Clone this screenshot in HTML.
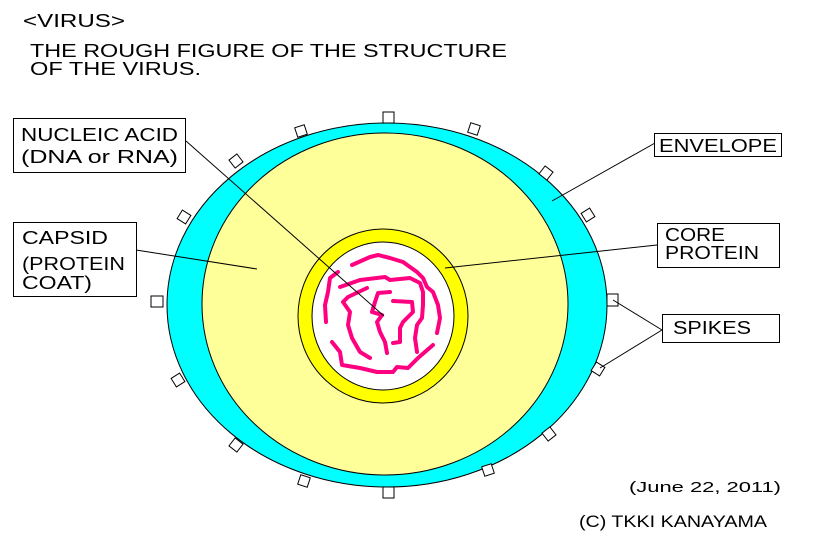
<!DOCTYPE html>
<html><head><meta charset="utf-8"><style>
html,body{margin:0;padding:0;background:#fff;}
svg{display:block;}
text{font-family:"Liberation Sans",sans-serif;fill:#000;}
</style></head><body>
<svg width="817" height="545" viewBox="0 0 817 545" xmlns="http://www.w3.org/2000/svg">
<rect width="817" height="545" fill="#fff"/>
<g font-size="18">
<text x="23" y="27" textLength="102" lengthAdjust="spacingAndGlyphs">&lt;VIRUS&gt;</text>
<text x="30" y="57" textLength="477" lengthAdjust="spacingAndGlyphs">THE  ROUGH  FIGURE  OF  THE  STRUCTURE</text>
<text x="30" y="75" textLength="171" lengthAdjust="spacingAndGlyphs">OF  THE  VIRUS.</text>
</g>
<!-- envelope -->
<ellipse cx="387" cy="305" rx="220" ry="182" fill="#00ffff" stroke="#000" stroke-width="1"/>
<ellipse cx="385" cy="304" rx="183" ry="171" fill="#ffff99" stroke="#000" stroke-width="1"/>
<ellipse cx="383" cy="316" rx="85" ry="87" fill="#ffff00" stroke="#000" stroke-width="1"/>
<ellipse cx="383" cy="316" rx="71" ry="74" fill="#fff" stroke="#000" stroke-width="1"/>
<!-- spikes -->
<g fill="#fff" stroke="#000" stroke-width="1">
<rect x="383" y="112" width="11" height="11"/>
<rect x="383" y="487" width="11" height="11"/>
<rect x="151" y="296" width="12" height="11"/>
<rect x="607" y="294" width="11" height="12"/>
<rect x="-5" y="-5" width="10" height="10" transform="translate(301,131) rotate(-18)"/>
<rect x="-5" y="-5" width="10" height="10" transform="translate(236,161) rotate(-38)"/>
<rect x="-5" y="-5" width="10" height="10" transform="translate(184,217) rotate(-58)"/>
<rect x="-5" y="-5" width="10" height="10" transform="translate(178,380) rotate(58)"/>
<rect x="-5" y="-5" width="10" height="10" transform="translate(236,445) rotate(38)"/>
<rect x="-5" y="-5" width="10" height="10" transform="translate(304,481) rotate(18)"/>
<rect x="-5" y="-5" width="10" height="10" transform="translate(488,470) rotate(-18)"/>
<rect x="-5" y="-5" width="10" height="10" transform="translate(549,434) rotate(-38)"/>
<rect x="-5" y="-5" width="10" height="10" transform="translate(598,369) rotate(-58)"/>
<rect x="-5" y="-5" width="10" height="10" transform="translate(588,215) rotate(58)"/>
<rect x="-5" y="-5" width="10" height="10" transform="translate(546,173) rotate(38)"/>
<rect x="-5" y="-5" width="10" height="10" transform="translate(474,129) rotate(18)"/>
</g>
<!-- DNA -->
<g fill="none" stroke="#ff0080" stroke-width="4" stroke-linecap="round" stroke-linejoin="round">
<polyline points="352,265 370,257 378,255 390,258 403,262 410,267 417,272 423,278 427,287 433,292 438,305 440,318 437,333"/>
<polyline points="338,272 330,278 328,292 325,305 326,322"/>
<polyline points="340,287 360,280 385,277 390,280 410,278 420,283 423,292 423,305 422,318 417,325 415,338 417,352"/>
<polyline points="332,342 340,352 342,365 360,368 377,372 393,372 397,367 408,368 418,358 433,345"/>
<polyline points="367,288 348,297 343,302 350,312 348,325 352,338 360,352 370,358"/>
<polyline points="390,292 378,293 375,302 372,312 382,315 377,322 380,332 385,342 387,353"/>
<polyline points="393,301 412,302 413,312 403,322 400,328 400,342 393,343"/>
</g>
<!-- leader lines -->
<g stroke="#000" stroke-width="1" fill="none">
<line x1="186" y1="141" x2="384" y2="316"/>
<line x1="136" y1="250" x2="257" y2="269"/>
<line x1="655" y1="143" x2="552" y2="201"/>
<line x1="657" y1="245" x2="445" y2="268"/>
<line x1="662" y1="330" x2="613" y2="300"/>
<line x1="662" y1="330" x2="600" y2="368"/>
</g>
<!-- boxes -->
<g fill="#fff" stroke="#000" stroke-width="1">
<rect x="13.5" y="118.5" width="172" height="54"/>
<rect x="13.5" y="222.5" width="123" height="74"/>
<rect x="654.5" y="133.5" width="127" height="23"/>
<rect x="657.5" y="223.5" width="122" height="44"/>
<rect x="662.5" y="314.5" width="117" height="28"/>
</g>
<g font-size="18">
<text x="21" y="141" textLength="157" lengthAdjust="spacingAndGlyphs">NUCLEIC  ACID</text>
<text x="21" y="163" textLength="157" lengthAdjust="spacingAndGlyphs">(DNA  or  RNA)</text>
<text x="22" y="244" textLength="86" lengthAdjust="spacingAndGlyphs">CAPSID</text>
<text x="22" y="270" textLength="103" lengthAdjust="spacingAndGlyphs">(PROTEIN</text>
<text x="22" y="289" textLength="70" lengthAdjust="spacingAndGlyphs">COAT)</text>
<text x="659" y="152" textLength="118" lengthAdjust="spacingAndGlyphs">ENVELOPE</text>
<text x="665" y="241" textLength="60" lengthAdjust="spacingAndGlyphs">CORE</text>
<text x="665" y="259" textLength="94" lengthAdjust="spacingAndGlyphs">PROTEIN</text>
<text x="673" y="334" textLength="78" lengthAdjust="spacingAndGlyphs">SPIKES</text>
</g>
<text x="629" y="492" font-size="15" textLength="152" lengthAdjust="spacingAndGlyphs">(June  22, 2011)</text>
<text x="579" y="527" font-size="17" textLength="188" lengthAdjust="spacingAndGlyphs">(C) TKKI KANAYAMA</text>
</svg>
</body></html>
